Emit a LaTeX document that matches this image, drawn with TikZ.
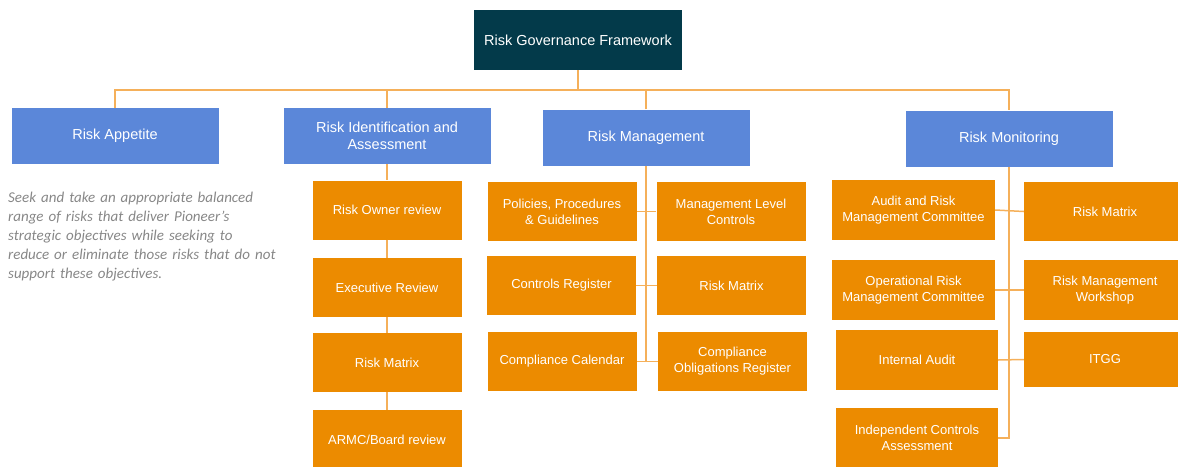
\documentclass[tikz,border=0pt]{standalone}
\usepackage{fontspec}
\setmainfont{Liberation Sans}
\newfontfamily\notefont{Carlito}
\definecolor{rgfteal}{RGB}{3,58,74}
\definecolor{rgfblue}{RGB}{91,135,217}
\definecolor{rgforange}{RGB}{236,139,0}
\definecolor{rgfline}{RGB}{245,176,90}
\definecolor{rgfgray}{RGB}{135,135,135}
\tikzset{
  headbox/.style={fill=rgfteal, text=white, minimum width=208pt, minimum height=60pt,
    inner sep=0pt, font=\fontsize{14.5}{17}\selectfont},
  areabox/.style={fill=rgfblue, text=white, align=center, minimum width=207pt,
    minimum height=56pt, inner sep=0pt, font=\fontsize{14.5}{17}\selectfont},
  itembox/.style={fill=rgforange, text=white, align=center, minimum width=149pt,
    minimum height=59pt, inner sep=0pt, font=\fontsize{13}{16}\selectfont},
  link/.style={draw=rgfline, line width=1.5pt},
  note/.style={anchor=north west, inner sep=0pt, text width=290pt, align=left,
    text=rgfgray, font=\notefont\itshape\fontsize{15}{19}\selectfont}
}
\begin{document}
\begin{tikzpicture}[x=1pt,y=-1pt]
  \useasboundingbox (0,0) rectangle (1178,466);
  %% top level
  \node[headbox] (rgf) at (578,40) {Risk Governance Framework};
  \node[areabox] (appetite) at (115,136) {Risk Appetite};
  \node[areabox] (ident) at (387,136) {Risk Identification and\\Assessment};
  \node[areabox] (mgmt) at (646,137.5) {Risk Management};
  \node[areabox] (monitor) at (1009,138.5) {Risk Monitoring};
  \coordinate (bus) at (578,90);
  %% appetite note
  \node[note] (appnote) at (8,191.5) {Seek and take an appropriate balanced\\
    range of risks that deliver Pioneer’s\\
    strategic objectives while seeking to\\
    reduce or eliminate those risks that do not\\
    support these objectives.};
  %% identification column
  \node[itembox] (owner) at (387,210) {Risk Owner review};
  \node[itembox] (exec) at (387,287.5) {Executive Review};
  \node[itembox] (idmatrix) at (387,362.5) {Risk Matrix};
  \node[itembox] (armc) at (387,439.5) {ARMC/Board review};
  %% management column
  \node[itembox] (policies) at (562,211.5) {Policies, Procedures\\\& Guidelines};
  \node[itembox] (mlc) at (731,211.5) {Management Level\\Controls};
  \node[itembox] (ctrlreg) at (561.5,285.5) {Controls Register};
  \node[itembox] (mgmatrix) at (731.5,285.5) {Risk Matrix};
  \node[itembox] (calendar) at (562,361.5) {Compliance Calendar};
  \node[itembox] (oblig) at (732.5,361.5) {Compliance\\Obligations Register};
  \coordinate (mgend) at (646,362);
  %% monitoring column
  \node[itembox, minimum width=163pt, minimum height=60pt] (arm) at (913.5,210) {Audit and Risk\\Management Committee};
  \node[itembox, minimum width=163pt, minimum height=60pt] (orm) at (913.5,290) {Operational Risk\\Management Committee};
  \node[itembox, minimum width=162pt, minimum height=60pt] (ia) at (917,360) {Internal Audit};
  \node[itembox, minimum width=162pt, minimum height=60pt] (ica) at (917,438) {Independent Controls\\Assessment};
  \node[itembox, minimum width=162pt] (monmatrix) at (1105,211.5) {Risk Matrix};
  \node[itembox, minimum width=162pt, minimum height=60pt] (rmw) at (1105,290) {Risk Management\\Workshop};
  \node[itembox, minimum width=162pt, minimum height=55pt] (itgg) at (1105,359.5) {ITGG};
  %% links
  \draw[link] (rgf.south) -- (bus);
  \draw[link] (appetite.north) |- (bus) -| (monitor.north);
  \draw[link] (ident.north) -- (ident.north |- bus);
  \draw[link] (mgmt.north) -- (mgmt.north |- bus);
  \draw[link] (ident.south) -- (owner.north);
  \draw[link] (owner.south) -- (exec.north);
  \draw[link] (exec.south) -- (idmatrix.north);
  \draw[link] (idmatrix.south) -- (armc.north);
  \draw[link] (mgmt.south) -- (mgend);
  \draw[link] (policies.east) -- (mlc.west);
  \draw[link] (ctrlreg.east) -- (mgmatrix.west);
  \draw[link] (calendar.east) -- (oblig.west);
  \draw[link] (monitor.south) -- (monitor.south |- ica.east) -- (ica.east);
  \draw[link] (arm.east) -- (monmatrix.west);
  \draw[link] (orm.east) -- (rmw.west);
  \draw[link] (ia.east) -- (itgg.west);
\end{tikzpicture}
\end{document}
